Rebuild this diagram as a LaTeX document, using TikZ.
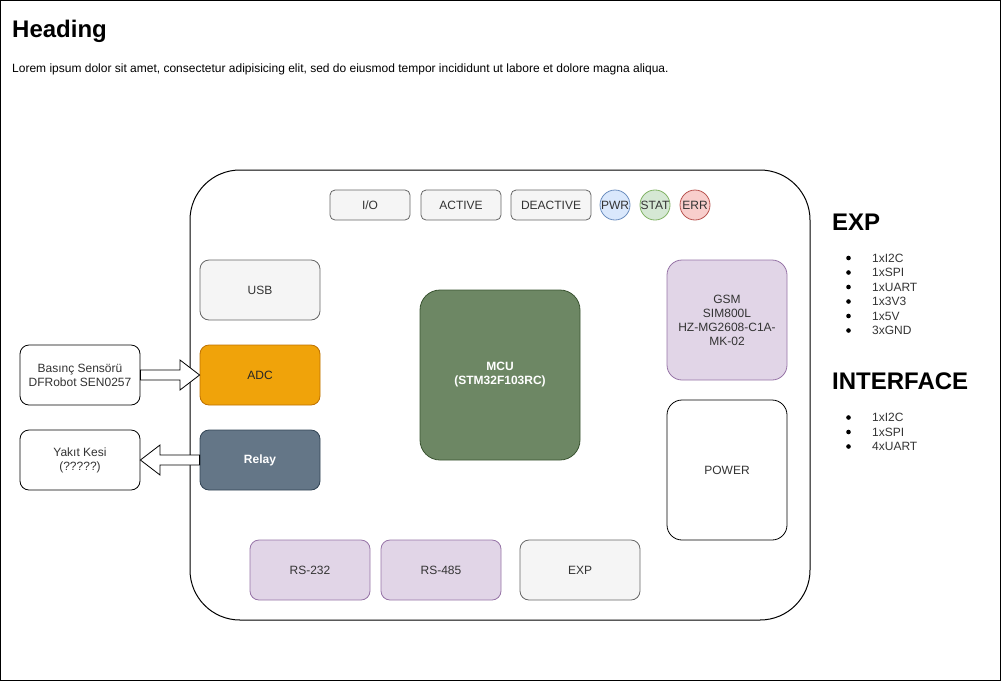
\documentclass[tikz,border=0pt]{standalone}
\usepackage{fontspec}
\setmainfont{Liberation Sans}
\usetikzlibrary{shapes.arrows}
\definecolor{grayfill}{HTML}{F5F5F5}
\definecolor{graystroke}{HTML}{666666}
\definecolor{graytext}{HTML}{333333}
\definecolor{purfill}{HTML}{E1D5E7}
\definecolor{purstroke}{HTML}{9673A6}
\definecolor{orfill}{HTML}{F0A30A}
\definecolor{orstroke}{HTML}{BD7000}
\definecolor{slfill}{HTML}{647687}
\definecolor{slstroke}{HTML}{314354}
\definecolor{grfill}{HTML}{6D8764}
\definecolor{grstroke}{HTML}{3A5431}
\definecolor{blfill}{HTML}{DAE8FC}
\definecolor{blstroke}{HTML}{6C8EBF}
\definecolor{gnfill}{HTML}{D5E8D4}
\definecolor{gnstroke}{HTML}{82B366}
\definecolor{rdfill}{HTML}{F8CECC}
\definecolor{rdstroke}{HTML}{B85450}
\begin{document}
\begin{tikzpicture}[x=1pt,y=-1pt,
  box/.style={draw, rounded corners=9pt, line width=0.8pt, align=center, font=\fontsize{12}{14}\selectfont, inner sep=0pt},
  graybox/.style={box, fill=grayfill, draw=graystroke, text=graytext},
  purbox/.style={box, fill=purfill, draw=purstroke, text=graytext},
  led/.style={circle, draw, line width=0.8pt, minimum size=30pt, inner sep=0pt, font=\fontsize{12}{14}\selectfont, text=graytext},
  hd/.style={anchor=west, font=\bfseries\fontsize{24}{28}\selectfont, inner sep=0pt},
  bl/.style={anchor=west, font=\fontsize{12}{14}\selectfont, inner sep=0pt, text=graytext},
  bigarrow/.style={draw, fill=white, line width=0.8pt}
]
\useasboundingbox (0,0) rectangle (1001,681);
\draw[line width=1pt] (0.5,0.5) rectangle (1000.5,680.5);

\node[hd] (heading) at (12,31) {Heading};
\node[anchor=west, inner sep=0pt, font=\fontsize{12}{14}\selectfont] (lorem) at (12,69) {Lorem ipsum dolor sit amet, consectetur adipisicing elit, sed do eiusmod tempor incididunt ut labore et dolore magna aliqua.};

\draw[line width=1pt, rounded corners=50pt] (190,170) rectangle (810,620);

\node[graybox, minimum width=80pt, minimum height=30pt, rounded corners=5pt] (io) at (370,205) {I/O};
\node[graybox, minimum width=80pt, minimum height=30pt, rounded corners=5pt] (active) at (461,205) {ACTIVE};
\node[graybox, minimum width=80pt, minimum height=30pt, rounded corners=5pt] (deactive) at (551,205) {DEACTIVE};
\node[led, fill=blfill, draw=blstroke] (pwr) at (615,205) {PWR};
\node[led, fill=gnfill, draw=gnstroke] (stat) at (655,205) {STAT};
\node[led, fill=rdfill, draw=rdstroke] (err) at (695,205) {ERR};

\node[graybox, minimum width=120pt, minimum height=60pt] (usb) at (260,290) {USB};
\node[box, fill=orfill, draw=orstroke, text=black!85, minimum width=120pt, minimum height=60pt] (adc) at (260,375) {ADC};
\node[box, fill=slfill, draw=slstroke, text=white, font=\bfseries\fontsize{12}{14}\selectfont, minimum width=120pt, minimum height=60pt] (relay) at (260,460) {Relay};

\node[box, fill=grfill, draw=grstroke, text=white, font=\bfseries\fontsize{12}{14}\selectfont, minimum width=160pt, minimum height=170pt, rounded corners=20pt] (mcu) at (500,375) {MCU\\(STM32F103RC)};

\node[purbox, minimum width=120pt, minimum height=120pt, rounded corners=15pt] (gsm) at (727,320) {GSM\\SIM800L\\HZ-MG2608-C1A-\\MK-02};
\node[box, fill=white, text=graytext, minimum width=120pt, minimum height=140pt, rounded corners=15pt] (power) at (727,470) {POWER};

\node[purbox, minimum width=120pt, minimum height=60pt] (rs232) at (310,570) {RS-232};
\node[purbox, minimum width=120pt, minimum height=60pt] (rs485) at (441,570) {RS-485};
\node[graybox, minimum width=120pt, minimum height=60pt] (exp) at (580,570) {EXP};

\node[box, fill=white, text=graytext, minimum width=120pt, minimum height=60pt] (sensor) at (80,375) {Basınç Sensörü\\DFRobot SEN0257};
\node[box, fill=white, text=graytext, minimum width=120pt, minimum height=60pt] (yakit) at (80,460) {Yakıt Kesi\\(?????)};

% block arrows
\draw[bigarrow] (sensor.east |- 0,370) -- (180,370) -- (180,360) -- (adc.west) -- (180,390) -- (180,380) -- (sensor.east |- 0,380) -- cycle;
\draw[bigarrow] (relay.west |- 0,455) -- (160,455) -- (160,445) -- (yakit.east) -- (160,475) -- (160,465) -- (relay.west |- 0,465) -- cycle;

\node[hd] (exph) at (832,222) {EXP};
\foreach \t [count=\i] in {1xI2C,1xSPI,1xUART,1x3V3,1x5V,3xGND} {
  \fill (848.5,243.5+14.5*\i) circle (2.3);
  \node[bl] (e\i) at (872,243.5+14.5*\i) {\t};
}
\node[hd] (ifh) at (832,381) {INTERFACE};
\foreach \t [count=\i] in {1xI2C,1xSPI,4xUART} {
  \fill (848.5,403+14.5*\i) circle (2.3);
  \node[bl] (f\i) at (872,403+14.5*\i) {\t};
}
\end{tikzpicture}
\end{document}
